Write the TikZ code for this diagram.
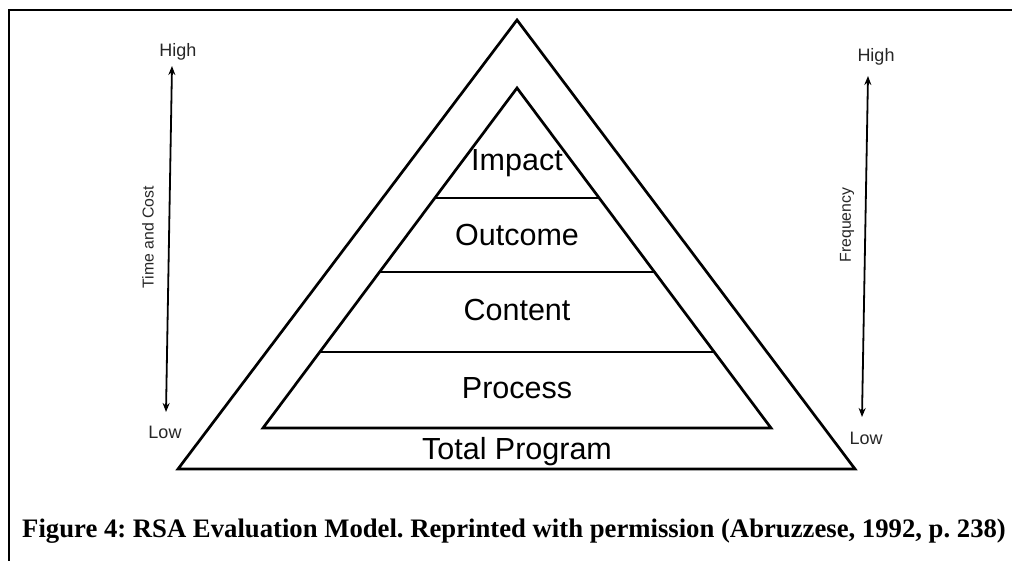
\documentclass[tikz,border=0pt]{standalone}
\usepackage{fontspec}
\setmainfont{Liberation Serif}
\newfontfamily\diagfont{Liberation Sans}
\usetikzlibrary{arrows.meta,calc}
\frenchspacing
\begin{document}
\begin{tikzpicture}[x=1pt,y=-1pt,
  tri/.style={line width=2.7pt,line join=miter},
  divider/.style={line width=2.7pt},
  level/.style={font=\diagfont\fontsize{30.5}{36}\selectfont,anchor=base,inner sep=0pt},
  endlabel/.style={font=\diagfont\fontsize{18}{21}\selectfont,text=black!85,anchor=base,inner sep=0pt},
  axislabel/.style={font=\diagfont\fontsize{15.8}{18}\selectfont,text=black!85,rotate=90,inner sep=0pt},
  scale arrow/.style={line width=1.8pt,{Stealth[length=9pt,width=7pt]}-{Stealth[length=9pt,width=7pt]}},
  caption/.style={font=\bfseries\fontsize{26.7}{31}\selectfont,anchor=base west,inner sep=0pt}]
\useasboundingbox (0,0) rectangle (1012,561);
% frame
\draw[line width=2.5pt] (1012,10) -- (9,10) -- (9,561);
% outer triangle
\coordinate (OA) at (517,20);
\coordinate (OL) at (178,469);
\coordinate (OR) at (855,469);
\draw[tri] (OA) -- (OL) -- (OR) -- cycle;
% inner triangle
\coordinate (IA) at (517,88);
\coordinate (IL) at (263,428);
\coordinate (IR) at (771,428);
\draw[tri] (IA) -- (IL) -- (IR) -- cycle;
% dividing lines between levels
\foreach \t/\n in {0.3235/a,0.541/b,0.7765/c}{
  \coordinate (L\n) at ($(IA)!\t!(IL)$);
  \coordinate (R\n) at ($(IA)!\t!(IR)$);
  \draw[divider] (L\n) -- (R\n);
}
% level names
\node[level] (impact)  at (517,171) {Impact};
\node[level] (outcome) at (517,246) {Outcome};
\node[level] (content) at (517,321) {Content};
\node[level] (process) at (517,398) {Process};
\node[level] (total)   at (517,459) {Total Program};
% left scale: time and cost
\node[endlabel] (hiL) at (178,57) {High};
\node[endlabel] (loL) at (165,438) {Low};
\coordinate (tcTop) at (172,66);
\coordinate (tcBot) at (166,412);
\draw[scale arrow] (tcTop) -- (tcBot);
\node[axislabel] (tc) at (148,237) {Time and Cost};
% right scale: frequency
\node[endlabel] (hiR) at (876,62) {High};
\node[endlabel] (loR) at (866,444) {Low};
\coordinate (frTop) at (868,76);
\coordinate (frBot) at (862,417);
\draw[scale arrow] (frTop) -- (frBot);
\node[axislabel] (freq) at (847,225) {Frequency};
% caption
\node[caption] (cap) at (22,537) {Figure 4: RSA Evaluation Model. Reprinted with permission (Abruzzese, 1992, p. 238)};
\end{tikzpicture}
\end{document}
